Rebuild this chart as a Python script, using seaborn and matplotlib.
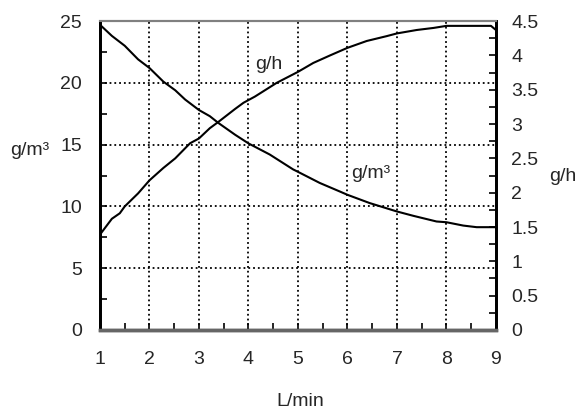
import matplotlib
matplotlib.use('Agg')
import matplotlib.pyplot as plt
import seaborn as sns
import numpy as np
from matplotlib.ticker import MultipleLocator, FormatStrFormatter

# concentration curve (left axis, g/m³)
flow_conc = [1.0, 1.24, 1.5, 1.77, 2.0, 2.28, 2.52, 2.72, 3.0, 3.22, 3.39, 3.73, 4.0,
             4.43, 4.9, 5.0, 5.44, 5.85, 6.0, 6.45, 7.0, 7.33, 7.8, 8.0, 8.34, 8.61, 9.0]
conc = [24.7, 23.8, 23.0, 21.9, 21.2, 20.1, 19.4, 18.65, 17.8, 17.3, 16.76, 15.8, 15.1,
        14.2, 13.0, 12.8, 11.9, 11.2, 10.94, 10.27, 9.59, 9.24, 8.78, 8.72, 8.45, 8.32, 8.32]

# output rate curve (right axis, g/h)
flow_rate = [1.0, 1.24, 1.4, 1.5, 1.77, 2.0, 2.28, 2.52, 2.82, 3.0, 3.22, 3.39, 3.73, 3.9,
             4.13, 4.57, 5.0, 5.31, 5.65, 6.0, 6.39, 6.79, 7.0, 7.4, 7.74, 8.0, 8.74, 8.9, 9.0]
rate = [1.39, 1.62, 1.70, 1.80, 1.99, 2.18, 2.36, 2.50, 2.72, 2.79, 2.94, 3.03, 3.22, 3.31,
        3.40, 3.60, 3.76, 3.89, 4.0, 4.11, 4.21, 4.28, 4.32, 4.37, 4.40, 4.43, 4.43, 4.43, 4.37]

sns.set_theme(style='white')
plt.rcParams['font.family'] = ['Liberation Sans', 'DejaVu Sans']

fig = plt.figure(figsize=(5.78, 4.13), dpi=100)
ax = fig.add_axes([0.173, 0.201, 0.685, 0.748])
ax2 = ax.twinx()

sns.lineplot(x=flow_conc, y=conc, ax=ax, color='black', lw=1.5, sort=False, estimator=None)
sns.lineplot(x=flow_rate, y=rate, ax=ax2, color='black', lw=1.5, sort=False, estimator=None)

ax.set_xlim(1, 9)
ax.set_ylim(0, 25)
ax2.set_ylim(0, 4.5)

ax.xaxis.set_major_locator(MultipleLocator(1))
ax.xaxis.set_minor_locator(MultipleLocator(0.5))
ax.yaxis.set_major_locator(MultipleLocator(5))
ax.yaxis.set_minor_locator(MultipleLocator(2.5))
ax2.yaxis.set_major_locator(MultipleLocator(0.5))
ax2.yaxis.set_minor_locator(MultipleLocator(0.25))
ax2.yaxis.set_major_formatter(FormatStrFormatter('%g'))

ax.grid(True, which='major', color='black', linestyle=':', lw=1.3)
ax2.grid(False)

fs = 14
ax.tick_params(axis='x', which='both', direction='in', length=5, width=1.2,
               color='black', labelsize=fs, pad=15, bottom=True)
ax.tick_params(axis='y', which='both', direction='in', length=5, width=1.2,
               color='black', labelsize=fs, pad=13, left=True)
ax2.tick_params(axis='y', which='both', direction='in', length=5, width=1.2,
                color='black', labelsize=fs, pad=11, right=True)

for a in (ax, ax2):
    a.spines['left'].set_color('black')
    a.spines['left'].set_linewidth(2)
    a.spines['right'].set_color('black')
    a.spines['right'].set_linewidth(2)
    a.spines['top'].set_color('#808080')
    a.spines['top'].set_linewidth(1.5)
    a.spines['bottom'].set_color('#666666')
    a.spines['bottom'].set_linewidth(2.5)

ax.set_xlabel('L/min', fontsize=fs, va='center')
ax.xaxis.set_label_coords(0.505, -0.23)
ax.set_ylabel('g/m³', fontsize=fs, rotation=0, ha='center', va='center')
ax.yaxis.set_label_coords(-0.177, 0.582)
ax2.set_ylabel('g/h', fontsize=fs, rotation=0, ha='center', va='center')
ax2.yaxis.set_label_coords(1.169, 0.498)

# curve labels
ax.text(4.13, 21.5, 'g/h', fontsize=fs, ha='left', va='center')
ax.text(6.08, 12.65, 'g/m³', fontsize=fs, ha='left', va='center')

fig.savefig('out.png', dpi=100)
